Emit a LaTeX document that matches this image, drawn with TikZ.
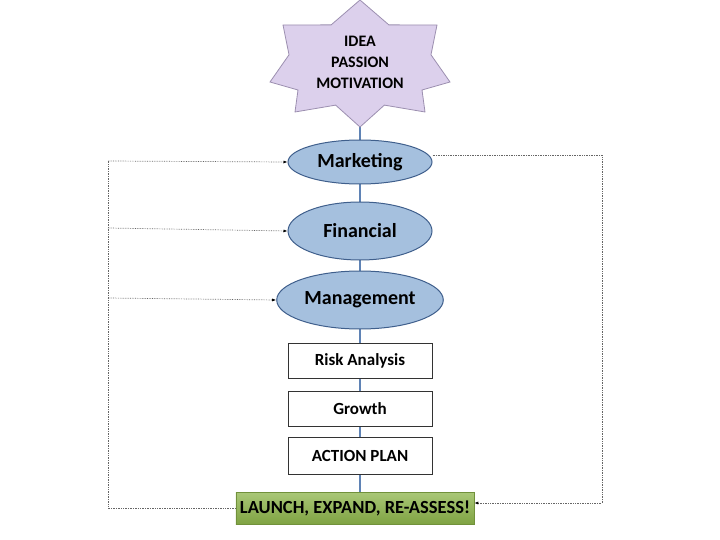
\documentclass[tikz,border=0pt]{standalone}
\usepackage{fontspec}
\setmainfont{Carlito}
\usetikzlibrary{calc,arrows.meta,shapes.geometric}
\definecolor{ellfill}{HTML}{A5C0DE}
\definecolor{ellline}{HTML}{3F5F8C}
\definecolor{starfill}{HTML}{DCD0EC}
\definecolor{starline}{HTML}{9C8FB0}
\definecolor{launch}{HTML}{8DB54A}
\definecolor{conn}{HTML}{5F83B5}
\begin{document}
\begin{tikzpicture}[x=1pt,y=-1pt,
  ell/.style={ellipse,draw=ellline,line width=1pt,fill=ellfill,minimum width=144pt,font=\bfseries\fontsize{20}{24}\selectfont},
  box/.style={draw=black!80,line width=0.8pt,fill=white,minimum width=144pt,font=\bfseries\fontsize{17}{20}\selectfont},
  dot/.style={densely dotted,draw=black!60,line width=0.7pt},
  arr/.style={dot,-{Latex[length=4pt,width=3pt,black]}}]
\useasboundingbox (0,0) rectangle (720,540);
\coordinate (c) at (360,62);
% vertical connector
\draw[conn,line width=1.5pt] (360,120) -- (360,495);
% star
\coordinate (o1) at (360,0); \coordinate (o2) at (437,25); \coordinate (o3) at (450,82); \coordinate (o4) at (425,112);
\coordinate (o5) at (360,127); \coordinate (o6) at (295,112); \coordinate (o7) at (270,82); \coordinate (o8) at (283,25);
\draw[starline,fill=starfill,line width=0.8pt]
 (o1) -- ($(c)!0.75!($(o1)!0.5!(o2)$)$) -- (o2) -- ($(c)!0.85!($(o2)!0.5!(o3)$)$) -- (o3) -- ($(c)!0.8!($(o3)!0.5!(o4)$)$) -- (o4) -- ($(c)!0.75!($(o4)!0.5!(o5)$)$) --
 (o5) -- ($(c)!0.75!($(o5)!0.5!(o6)$)$) -- (o6) -- ($(c)!0.8!($(o6)!0.5!(o7)$)$) -- (o7) -- ($(c)!0.85!($(o7)!0.5!(o8)$)$) -- (o8) -- ($(c)!0.75!($(o8)!0.5!(o1)$)$) -- cycle;
\node[align=center,font=\bfseries\fontsize{16}{21}\selectfont] (idea) at (360,62) {IDEA\\PASSION\\MOTIVATION};
% ellipses
\node[ell,minimum height=44pt] (mk) at (360,162) {Marketing};
\node[ell,minimum height=58pt] (fin) at (360,231) {Financial};
\node[ell,minimum height=58pt] (mg) at (360,300) {Management};
% boxes
\node[box,minimum height=35pt] (risk) at (360,361) {Risk Analysis};
\node[box,minimum height=35pt] (gr) at (360,409) {Growth};
\node[box,minimum height=37pt] (ap) at (360,456) {ACTION PLAN};
\node[draw=launch!80!black,line width=0.5pt,top color=launch!75!white,bottom color=launch!90!black,minimum width=237pt,minimum height=32pt,inner xsep=4pt,font=\bfseries\fontsize{18.5}{20}\selectfont] (ln) at (355,508) {LAUNCH, EXPAND, RE-ASSESS!};
% feedback loops
\coordinate (l1) at (108,161); \coordinate (l2) at (108,228); \coordinate (l3) at (108,298); \coordinate (l4) at (108,508);
\coordinate (r1) at (602,155); \coordinate (r2) at (602,503);
\draw[dot] (ln.west) -- (l4) -- (l1);
\draw[arr] (l1) -- (mk.west);
\draw[arr] (l2) -- (fin.west);
\draw[arr] (l3) -- (mg.west);
\draw[arr] (mk.east |- r1) -- (r1) -- (r2) -- (ln.east |- r2);
\end{tikzpicture}
\end{document}
